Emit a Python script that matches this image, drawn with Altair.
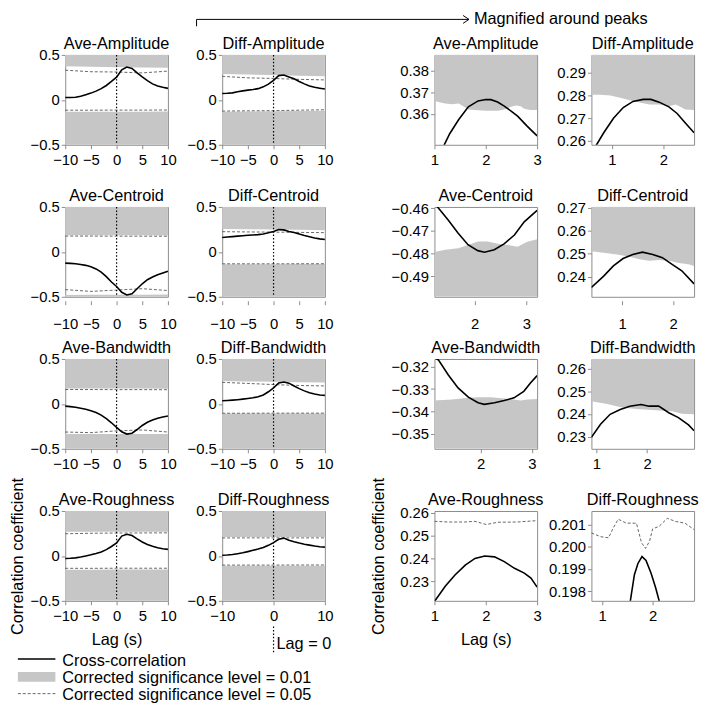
import altair as alt
import pandas as pd

FONT = "Liberation Sans"
GRAY = "#c6c6c6"
FRAME = "#8c8c8c"
DASH = "#555555"
W, H = 104, 91

# ---------------- full-range panels (lag -10..10 s) ----------------
LAGS = list(range(-10, 11))
THR_LAGS = [-10, -5, 0, 5, 10]

AVE_AMP_CC = [0.026, 0.027, 0.029, 0.040, 0.058, 0.075, 0.097, 0.125, 0.160, 0.205, 0.253,
              0.335, 0.366, 0.350, 0.300, 0.255, 0.215, 0.178, 0.155, 0.140, 0.128]
AVE_AMP_UP01 = [0.374, 0.368, 0.364, 0.360, 0.358]
AVE_AMP_LO01 = [-0.132, -0.132, -0.131, -0.131, -0.130]
AVE_AMP_UP05 = [0.330, 0.313, 0.310, 0.300, 0.320]
AVE_AMP_LO05 = [-0.115, -0.115, -0.114, -0.114, -0.113]

DIFF_AMP_CC = [0.070, 0.073, 0.078, 0.090, 0.100, 0.108, 0.115, 0.125, 0.145, 0.175, 0.218,
               0.270, 0.276, 0.255, 0.235, 0.205, 0.178, 0.155, 0.140, 0.130, 0.120]
DIFF_AMP_UP01 = [0.289, 0.282, 0.276, 0.268, 0.262]
DIFF_AMP_LO01 = [-0.132, -0.130, -0.127, -0.124, -0.120]
DIFF_AMP_UP05 = [0.262, 0.245, 0.238, 0.228, 0.222]
DIFF_AMP_LO05 = [-0.125, -0.122, -0.120, -0.115, -0.110]

AVE_CEN_CC = [-0.125, -0.128, -0.132, -0.140, -0.150, -0.165, -0.190, -0.225, -0.275, -0.335, -0.385,
              -0.450, -0.479, -0.466, -0.410, -0.355, -0.310, -0.280, -0.255, -0.235, -0.215]
AVE_CEN_UP01 = [0.185, 0.185, 0.184, 0.184, 0.183]
AVE_CEN_LO01 = [-0.479, -0.478, -0.477, -0.476, -0.475]
AVE_CEN_UP05 = [0.176, 0.176, 0.175, 0.175, 0.174]
AVE_CEN_LO05 = [-0.420, -0.440, -0.425, -0.410, -0.430]

DIFF_CEN_CC = [0.160, 0.165, 0.170, 0.175, 0.180, 0.185, 0.188, 0.192, 0.200, 0.212, 0.228,
               0.248, 0.245, 0.228, 0.215, 0.198, 0.182, 0.168, 0.155, 0.145, 0.137]
DIFF_CEN_UP01 = [0.256, 0.253, 0.250, 0.246, 0.242]
DIFF_CEN_LO01 = [-0.137, -0.137, -0.137, -0.136, -0.136]
DIFF_CEN_UP05 = [0.225, 0.222, 0.220, 0.217, 0.214]
DIFF_CEN_LO05 = [-0.133, -0.133, -0.133, -0.132, -0.132]

AVE_BW_CC = [-0.025, -0.030, -0.038, -0.048, -0.060, -0.075, -0.095, -0.125, -0.165, -0.210, -0.262,
             -0.310, -0.336, -0.326, -0.285, -0.240, -0.205, -0.180, -0.160, -0.145, -0.135]
AVE_BW_UP01 = [0.172, 0.172, 0.171, 0.171, 0.170]
AVE_BW_LO01 = [-0.336, -0.335, -0.334, -0.334, -0.335]
AVE_BW_UP05 = [0.160, 0.160, 0.159, 0.159, 0.158]
AVE_BW_LO05 = [-0.313, -0.320, -0.300, -0.290, -0.313]

DIFF_BW_CC = [0.035, 0.038, 0.042, 0.047, 0.053, 0.060, 0.068, 0.080, 0.100, 0.135, 0.178,
              0.233, 0.244, 0.231, 0.200, 0.170, 0.145, 0.125, 0.110, 0.100, 0.095]
DIFF_BW_UP01 = [0.255, 0.250, 0.246, 0.242, 0.238]
DIFF_BW_LO01 = [-0.108, -0.108, -0.107, -0.107, -0.107]
DIFF_BW_UP05 = [0.240, 0.228, 0.215, 0.205, 0.200]
DIFF_BW_LO05 = [-0.104, -0.104, -0.103, -0.103, -0.103]

AVE_RO_CC = [-0.028, -0.026, -0.022, -0.012, 0.000, 0.013, 0.028, 0.045, 0.070, 0.105, 0.145,
             0.221, 0.241, 0.227, 0.190, 0.155, 0.128, 0.107, 0.090, 0.080, 0.073]
AVE_RO_UP01 = [0.268, 0.268, 0.268, 0.268, 0.268]
AVE_RO_LO01 = [-0.153, -0.153, -0.152, -0.152, -0.152]
AVE_RO_UP05 = [0.247, 0.252, 0.255, 0.256, 0.257]
AVE_RO_LO05 = [-0.138, -0.138, -0.137, -0.137, -0.137]

DIFF_RO_CC = [0.008, 0.010, 0.015, 0.025, 0.035, 0.048, 0.062, 0.077, 0.095, 0.118, 0.148,
              0.185, 0.198, 0.175, 0.158, 0.143, 0.130, 0.120, 0.110, 0.103, 0.098]
DIFF_RO_UP01 = [0.210, 0.210, 0.210, 0.210, 0.210]
DIFF_RO_LO01 = [-0.109, -0.109, -0.109, -0.108, -0.108]
DIFF_RO_UP05 = [0.2005, 0.2008, 0.2008, 0.2009, 0.2009]
DIFF_RO_LO05 = [-0.102, -0.102, -0.102, -0.101, -0.101]

# ---------------- magnified panels ----------------
M_AVE_AMP_LAG = [1.0, 1.2, 1.3, 1.47, 1.66, 1.85, 2.0, 2.1, 2.23, 2.36, 2.5, 2.62, 2.81, 3.0]
M_AVE_AMP_CC = [0.3350, 0.3462, 0.3510, 0.3573, 0.3633, 0.3660, 0.3667, 0.3666, 0.3655, 0.3636,
                0.3612, 0.3590, 0.3543, 0.3499]
M_AVE_AMP_TLAG = [1.0, 1.08, 1.21, 1.34, 1.47, 1.56, 1.66, 1.79, 2.0, 2.24, 2.36, 2.49, 2.59, 2.68,
                  2.75, 2.87, 3.0]
M_AVE_AMP_T01 = [0.3660, 0.3655, 0.3648, 0.3645, 0.3648, 0.3636, 0.3621, 0.3618, 0.3615, 0.3615,
                 0.3621, 0.3633, 0.3639, 0.3636, 0.3624, 0.3618, 0.3618]

M_DIFF_AMP_LAG = [0.6, 0.70, 0.84, 1.03, 1.22, 1.41, 1.61, 1.76, 1.92, 2.11, 2.27, 2.43, 2.6]
M_DIFF_AMP_CC = [0.2550, 0.2583, 0.2636, 0.2700, 0.2747, 0.2774, 0.2783, 0.2783, 0.2771, 0.2750,
                 0.2721, 0.2679, 0.2636]
M_DIFF_AMP_TLAG = [0.6, 0.78, 0.97, 1.16, 1.35, 1.54, 1.73, 1.92, 2.11, 2.24, 2.34, 2.43, 2.6]
M_DIFF_AMP_T01 = [0.2804, 0.2803, 0.2800, 0.2790, 0.2779, 0.2769, 0.2761, 0.2760, 0.2753, 0.2761,
                  0.2750, 0.2739, 0.2736]

M_AVE_CEN_LAG = [1.22, 1.30, 1.49, 1.68, 1.87, 2.06, 2.19, 2.38, 2.57, 2.77, 2.96, 3.21]
M_AVE_CEN_CC = [-0.4575, -0.4600, -0.4653, -0.4710, -0.4761, -0.4787, -0.4794, -0.4783, -0.4757,
                -0.4718, -0.4660, -0.4609]
M_AVE_CEN_TLAG = [1.22, 1.43, 1.68, 1.94, 2.06, 2.25, 2.45, 2.64, 2.83, 3.02, 3.21]
M_AVE_CEN_T01 = [-0.4793, -0.4783, -0.4776, -0.4757, -0.4747, -0.4747, -0.4757, -0.4762, -0.4770,
                 -0.4748, -0.4737]

M_DIFF_CEN_LAG = [0.40, 0.64, 0.83, 1.02, 1.21, 1.40, 1.60, 1.79, 1.98, 2.17, 2.41]
M_DIFF_CEN_CC = [0.2354, 0.2403, 0.2447, 0.2479, 0.2497, 0.2507, 0.2497, 0.2483, 0.2454, 0.2426, 0.2369]
M_DIFF_CEN_TLAG = [0.40, 0.64, 0.90, 1.15, 1.34, 1.53, 1.72, 1.92, 2.11, 2.30, 2.41]
M_DIFF_CEN_T01 = [0.2511, 0.2504, 0.2497, 0.2487, 0.2476, 0.2469, 0.2473, 0.2469, 0.2460, 0.2454, 0.2447]

M_AVE_BW_LAG = [1.10, 1.18, 1.37, 1.56, 1.76, 1.95, 2.07, 2.27, 2.46, 2.65, 2.84, 2.97, 3.10]
M_AVE_BW_CC = [-0.3160, -0.3171, -0.3237, -0.3295, -0.3336, -0.3361, -0.3368, -0.3361, -0.3351,
               -0.3339, -0.3310, -0.3273, -0.3240]
M_AVE_BW_TLAG = [1.10, 1.44, 1.76, 1.95, 2.20, 2.46, 2.65, 2.78, 2.90, 3.10]
M_AVE_BW_T01 = [-0.3351, -0.3346, -0.3339, -0.3336, -0.3336, -0.3342, -0.3346, -0.3351, -0.3346, -0.3344]

M_DIFF_BW_LAG = [0.90, 1.08, 1.27, 1.47, 1.66, 1.88, 2.04, 2.23, 2.43, 2.62, 2.82, 2.93]
M_DIFF_BW_CC = [0.2297, 0.2355, 0.2399, 0.2420, 0.2435, 0.2442, 0.2435, 0.2435, 0.2406, 0.2384,
                0.2352, 0.2326]
M_DIFF_BW_TLAG = [0.90, 1.21, 1.53, 1.86, 2.18, 2.50, 2.69, 2.93]
M_DIFF_BW_T01 = [0.2457, 0.2445, 0.2428, 0.2421, 0.2417, 0.2413, 0.2401, 0.2399]

M_AVE_RO_LAG = [1.0, 1.21, 1.40, 1.60, 1.79, 1.98, 2.17, 2.36, 2.56, 2.75, 2.88, 3.0]
M_AVE_RO_CC = [0.2212, 0.2279, 0.2328, 0.2371, 0.2400, 0.2411, 0.2407, 0.2386, 0.2357, 0.2336,
               0.2314, 0.2275]
M_AVE_RO_DLAG = [1.0, 1.27, 1.59, 1.79, 2.01, 2.23, 2.61, 3.0]
M_AVE_RO_T05 = [0.2562, 0.2559, 0.2559, 0.2562, 0.2548, 0.2558, 0.2559, 0.2565]

M_DIFF_RO_LAG = [1.50, 1.56, 1.64, 1.71, 1.79, 1.87, 1.97, 2.06, 2.13, 2.20]
M_DIFF_RO_CC = [0.1970, 0.19756, 0.19874, 0.19925, 0.19956, 0.19939, 0.19881, 0.19815, 0.19756, 0.1968]
M_DIFF_RO_DLAG = [0.79, 0.97, 1.13, 1.22, 1.32, 1.48, 1.68, 1.78, 1.86, 1.94, 2.00, 2.13, 2.29,
                  2.45, 2.64, 2.82]
M_DIFF_RO_T05 = [0.20063, 0.20046, 0.20041, 0.20085, 0.20125, 0.20107, 0.20107, 0.20019, 0.19993,
                 0.20026, 0.20081, 0.20093, 0.20129, 0.20115, 0.20107, 0.20078]

ONE = pd.DataFrame({"k": [0]})


def x_axis(values, row, title=None):
    return alt.Axis(values=values, format=".0f", title=title, labelOverlap=False, labelFlush=False,
                    offset=4 if row == 2 else 0, labelPadding=12 if row == 2 else 4,
                    tickSize=4, titlePadding=8, grid=False, domain=False)


def y_axis(values, fmt, title=None, tpad=7):
    return alt.Axis(values=values, format=fmt, title=title, labelOverlap=False, labelFlush=False,
                    tickSize=4, labelPadding=2, titlePadding=tpad, grid=False, domain=False)


def panel_title(text):
    return alt.Chart(ONE).mark_text(align="center", baseline="alphabetic", fontSize=16.5, font=FONT,
                                    color="black").encode(
        x=alt.value(W / 2), y=alt.value(-6), text=alt.value(text))


def full_panel(title, cc, up01, lo01, up05, lo05, row, titles=False, extras=()):
    df = pd.DataFrame({"lag": LAGS, "r": cc})
    thr = pd.DataFrame({"lag": THR_LAGS, "up01": up01, "lo01": lo01, "up05": up05, "lo05": lo05})
    xs = alt.Scale(domain=[-10, 10], nice=False, zero=False)
    ys = alt.Scale(domain=[-0.5, 0.5], nice=False, zero=False)
    xa = x_axis([-10, -5, 0, 5, 10], row, "Lag (s)" if titles else None)
    ya = y_axis([-0.5, 0, 0.5], "~g", "Correlation coefficient" if titles else None, 5)
    X = alt.X("lag:Q", scale=xs, axis=xa)
    t = alt.Chart(thr)
    layers = [
        t.mark_area(color=GRAY).encode(x=X, y=alt.Y("up01:Q", scale=ys, axis=ya), y2=alt.datum(0.5)),
        t.mark_area(color=GRAY).encode(x=X, y=alt.Y("lo01:Q", scale=ys, axis=ya), y2=alt.datum(-0.5)),
        t.mark_line(color=DASH, strokeWidth=0.9, strokeDash=[3, 2]).encode(
            x=X, y=alt.Y("up05:Q", scale=ys, axis=ya)),
        t.mark_line(color=DASH, strokeWidth=0.9, strokeDash=[3, 2]).encode(
            x=X, y=alt.Y("lo05:Q", scale=ys, axis=ya)),
        alt.Chart(ONE).mark_rule(color="black", strokeWidth=1.2, strokeDash=[1.5, 2]).encode(
            x=alt.datum(0, scale=xs, axis=xa)),
        alt.Chart(df).mark_line(color="black", strokeWidth=1.6).encode(
            x=X, y=alt.Y("r:Q", scale=ys, axis=ya)),
        panel_title(title),
    ]
    layers += list(extras)
    return alt.layer(*layers).properties(width=W, height=H)


def mag_panel(title, xdom, xticks, ydom, yticks, yfmt, lag, cc, row, tlag=None, t01=None, side=None,
              dlag=None, t05=None, titles=False):
    xs = alt.Scale(domain=xdom, nice=False, zero=False)
    ys = alt.Scale(domain=ydom, nice=False, zero=False)
    xa = x_axis(xticks, row, "Lag (s)" if titles else None)
    ya = y_axis(yticks, yfmt, "Correlation coefficient" if titles else None, 13)
    X = alt.X("lag:Q", scale=xs, axis=xa)
    layers = []
    if t01 is not None:
        tdf = pd.DataFrame({"lag": tlag, "t": t01})
        edge = ydom[1] if side == "up" else ydom[0]
        layers.append(alt.Chart(tdf).mark_area(color=GRAY, clip=True).encode(
            x=X, y=alt.Y("t:Q", scale=ys, axis=ya), y2=alt.datum(edge)))
    if t05 is not None:
        ddf = pd.DataFrame({"lag": dlag, "t": t05})
        layers.append(alt.Chart(ddf).mark_line(color=DASH, strokeWidth=0.9, strokeDash=[3, 2], clip=True).encode(
            x=X, y=alt.Y("t:Q", scale=ys, axis=ya)))
    cdf = pd.DataFrame({"lag": lag, "r": cc})
    layers.append(alt.Chart(cdf).mark_line(color="black", strokeWidth=1.6, clip=True).encode(
        x=X, y=alt.Y("r:Q", scale=ys, axis=ya)))
    layers.append(panel_title(title))
    return alt.layer(*layers).properties(width=W, height=H)


def spacer():
    return alt.Chart(ONE).mark_point(opacity=0).properties(
        width=1, height=H, view=alt.ViewBackground(strokeOpacity=0))


# annotation: bracket arrow and label
AY = -36
arrow = [
    alt.Chart(ONE).mark_rule(color="black", strokeWidth=1).encode(
        x=alt.value(-26), y=alt.value(-29), y2=alt.value(AY)),
    alt.Chart(ONE).mark_rule(color="black", strokeWidth=1).encode(
        x=alt.value(-26), x2=alt.value(250), y=alt.value(AY)),
    alt.Chart(ONE).mark_rule(color="black", strokeWidth=1).encode(
        x=alt.value(244), x2=alt.value(250), y=alt.value(AY - 4), y2=alt.value(AY)),
    alt.Chart(ONE).mark_rule(color="black", strokeWidth=1).encode(
        x=alt.value(244), x2=alt.value(250), y=alt.value(AY + 4), y2=alt.value(AY)),
    alt.Chart(ONE).mark_text(align="left", baseline="middle", fontSize=16.5, font=FONT).encode(
        x=alt.value(255), y=alt.value(AY), text=alt.value("Magnified around peaks")),
]

# legend (drawn under the bottom-left panel)
legend = [
    alt.Chart(ONE).mark_rule(color="black", strokeWidth=1.6).encode(
        x=alt.value(-48), x2=alt.value(-10), y=alt.value(150)),
    alt.Chart(ONE).mark_rect(color=GRAY).encode(
        x=alt.value(-48), x2=alt.value(-10), y=alt.value(163), y2=alt.value(173)),
    alt.Chart(ONE).mark_rule(color=DASH, strokeWidth=0.9, strokeDash=[3, 2]).encode(
        x=alt.value(-48), x2=alt.value(-10), y=alt.value(185)),
    alt.Chart(ONE).mark_text(align="left", baseline="middle", fontSize=16.5, font=FONT).encode(
        x=alt.value(-3), y=alt.value(152), text=alt.value("Cross-correlation")),
    alt.Chart(ONE).mark_text(align="left", baseline="middle", fontSize=16.5, font=FONT).encode(
        x=alt.value(-3), y=alt.value(169), text=alt.value("Corrected significance level = 0.01")),
    alt.Chart(ONE).mark_text(align="left", baseline="middle", fontSize=16.5, font=FONT).encode(
        x=alt.value(-3), y=alt.value(186), text=alt.value("Corrected significance level = 0.05")),
]

lag0 = [
    alt.Chart(ONE).mark_rule(color="black", strokeWidth=1.2, strokeDash=[1.5, 2]).encode(
        x=alt.datum(0), y=alt.value(117), y2=alt.value(143)),
    alt.Chart(ONE).mark_text(align="left", baseline="middle", fontSize=16.5, font=FONT, dx=3).encode(
        x=alt.datum(0), y=alt.value(135), text=alt.value("Lag = 0")),
]

cells = [
    full_panel("Ave-Amplitude", AVE_AMP_CC, AVE_AMP_UP01, AVE_AMP_LO01, AVE_AMP_UP05, AVE_AMP_LO05, 1),
    full_panel("Diff-Amplitude", DIFF_AMP_CC, DIFF_AMP_UP01, DIFF_AMP_LO01, DIFF_AMP_UP05, DIFF_AMP_LO05, 1,
               extras=arrow),
    spacer(),
    mag_panel("Ave-Amplitude", [1, 3], [1, 2, 3], [0.3458, 0.3872], [0.36, 0.37, 0.38], ".2f",
              M_AVE_AMP_LAG, M_AVE_AMP_CC, 1, M_AVE_AMP_TLAG, M_AVE_AMP_T01, "up"),
    mag_panel("Diff-Amplitude", [0.6, 2.6], [1, 2], [0.2583, 0.2979], [0.26, 0.27, 0.28, 0.29], ".2f",
              M_DIFF_AMP_LAG, M_DIFF_AMP_CC, 1, M_DIFF_AMP_TLAG, M_DIFF_AMP_T01, "up"),

    full_panel("Ave-Centroid", AVE_CEN_CC, AVE_CEN_UP01, AVE_CEN_LO01, AVE_CEN_UP05, AVE_CEN_LO05, 2),
    full_panel("Diff-Centroid", DIFF_CEN_CC, DIFF_CEN_UP01, DIFF_CEN_LO01, DIFF_CEN_UP05, DIFF_CEN_LO05, 2),
    spacer(),
    mag_panel("Ave-Centroid", [1.22, 3.21], [2, 3], [-0.4991, -0.4594], [-0.49, -0.48, -0.47, -0.46], ".2f",
              M_AVE_CEN_LAG, M_AVE_CEN_CC, 2, M_AVE_CEN_TLAG, M_AVE_CEN_T01, "down"),
    mag_panel("Diff-Centroid", [0.40, 2.41], [1, 2], [0.2313, 0.2703], [0.24, 0.25, 0.26, 0.27], ".2f",
              M_DIFF_CEN_LAG, M_DIFF_CEN_CC, 2, M_DIFF_CEN_TLAG, M_DIFF_CEN_T01, "up"),

    full_panel("Ave-Bandwidth", AVE_BW_CC, AVE_BW_UP01, AVE_BW_LO01, AVE_BW_UP05, AVE_BW_LO05, 3),
    full_panel("Diff-Bandwidth", DIFF_BW_CC, DIFF_BW_UP01, DIFF_BW_LO01, DIFF_BW_UP05, DIFF_BW_LO05, 3),
    spacer(),
    mag_panel("Ave-Bandwidth", [1.10, 3.10], [2, 3], [-0.3566, -0.3166], [-0.35, -0.34, -0.33, -0.32], ".2f",
              M_AVE_BW_LAG, M_AVE_BW_CC, 3, M_AVE_BW_TLAG, M_AVE_BW_T01, "down"),
    mag_panel("Diff-Bandwidth", [0.90, 2.93], [1, 2], [0.2246, 0.2644], [0.23, 0.24, 0.25, 0.26], ".2f",
              M_DIFF_BW_LAG, M_DIFF_BW_CC, 3, M_DIFF_BW_TLAG, M_DIFF_BW_T01, "up"),

    full_panel("Ave-Roughness", AVE_RO_CC, AVE_RO_UP01, AVE_RO_LO01, AVE_RO_UP05, AVE_RO_LO05, 4,
               titles=True, extras=legend),
    full_panel("Diff-Roughness", DIFF_RO_CC, DIFF_RO_UP01, DIFF_RO_LO01, DIFF_RO_UP05, DIFF_RO_LO05, 4,
               extras=lag0),
    spacer(),
    mag_panel("Ave-Roughness", [1, 3], [1, 2, 3], [0.2215, 0.2607], [0.23, 0.24, 0.25, 0.26], ".2f",
              M_AVE_RO_LAG, M_AVE_RO_CC, 4, dlag=M_AVE_RO_DLAG, t05=M_AVE_RO_T05, titles=True),
    mag_panel("Diff-Roughness", [0.79, 2.82], [1, 2], [0.19756, 0.20162], [0.198, 0.199, 0.200, 0.201], ".3f",
              M_DIFF_RO_LAG, M_DIFF_RO_CC, 4, dlag=M_DIFF_RO_DLAG, t05=M_DIFF_RO_T05),
]

chart = alt.concat(*cells, columns=5, spacing={"row": 63, "column": 55}, bounds="flush", align="each").properties(
    padding={"left": 0, "top": -2, "right": 0, "bottom": 0}
).configure(font=FONT).configure_view(stroke=FRAME, strokeWidth=1).configure_axis(
    labelFont=FONT, labelFontSize=15, labelColor="black", tickColor=FRAME, tickWidth=1,
    labelOverlap=False, labelFlush=False,
    titleFont=FONT, titleFontSize=16.5, titleFontWeight="normal", titleColor="black"
)

chart.save("out.html", embed_options={"renderer": "svg", "actions": False})
